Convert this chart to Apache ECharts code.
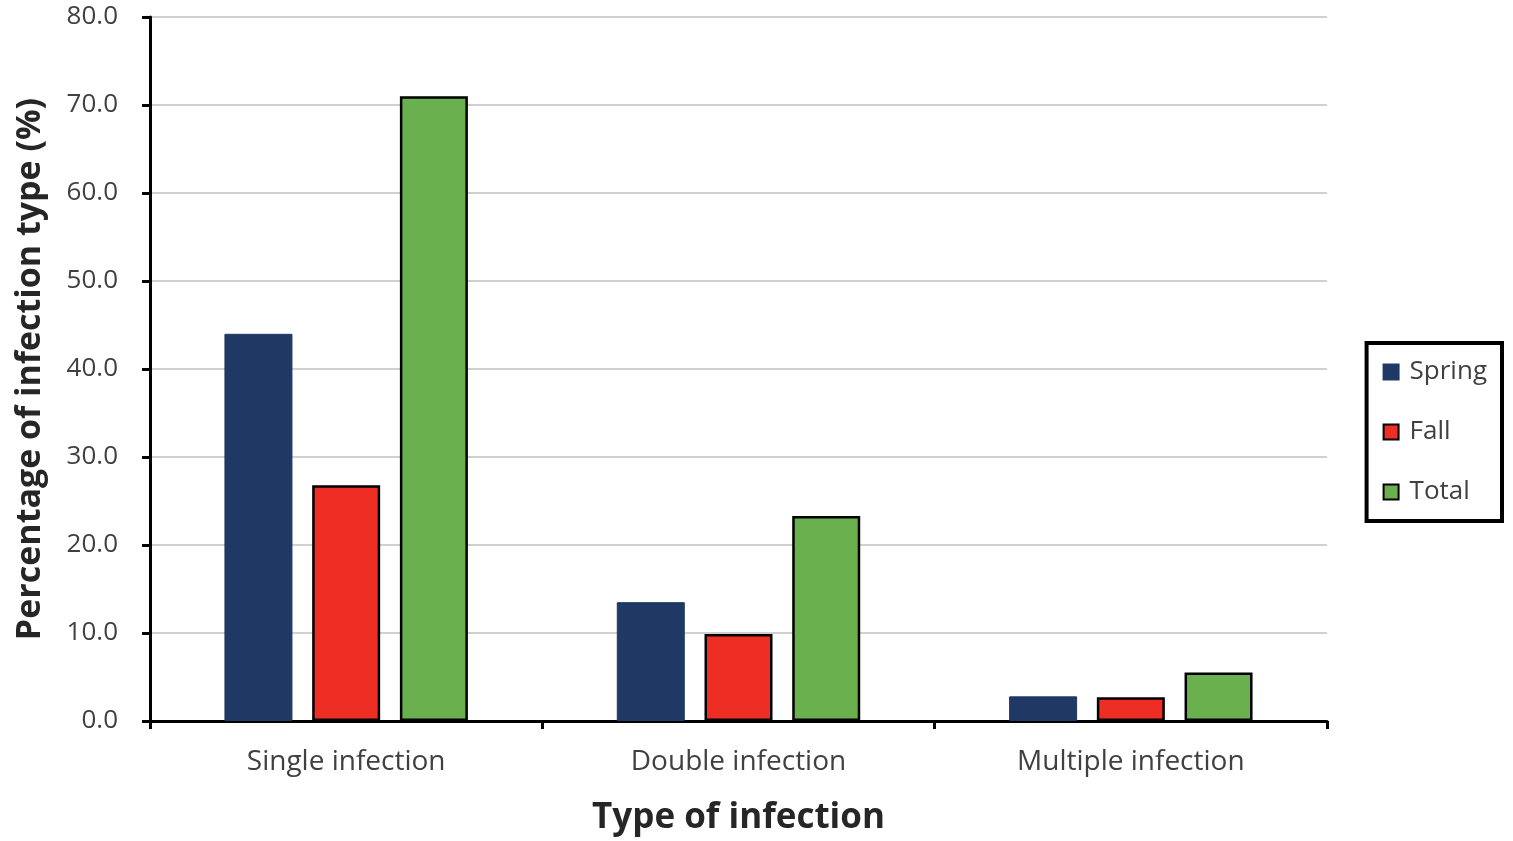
<!DOCTYPE html>
<html><head><meta charset="utf-8">
<script src="https://cdn.jsdelivr.net/npm/echarts@6/dist/echarts.min.js"></script>
<style>html,body{margin:0;padding:0;background:#fff}#c{width:1513px;height:841px}</style>
</head><body><div id="c"></div>
<script>
const categories = ['Single infection', 'Double infection', 'Multiple infection'];
const spring = [44.0, 13.5, 2.8];
const fall = [26.8, 9.9, 2.7];
const total = [71.0, 23.3, 5.5];
const yTicks = [0, 10, 20, 30, 40, 50, 60, 70, 80];

const chart = echarts.init(document.getElementById('c'));
const font = '"Open Sans", "Noto Sans", sans-serif';
chart.setOption({
  animation: false,
  textStyle: {fontFamily: font},
  grid: {left: 150, right: 186, top: 17, bottom: 120, containLabel: false, outerBoundsMode: 'none'},
  legend: {
    orient: 'vertical', right: 11, top: 343,
    data: ['Spring', 'Fall', 'Total'],
    itemWidth: 15, itemHeight: 15, itemGap: 34,
    padding: [16, 15, 16, 16],
    borderColor: '#000', borderWidth: 4, borderRadius: 0,
    textStyle: {fontSize: 26, color: '#404040', fontFamily: font, padding: [0, 0, 0, 6]},
    icon: 'rect'
  },
  xAxis: {
    type: 'category', data: categories,
    name: 'Type of infection', nameLocation: 'middle', nameGap: 80,
    nameTextStyle: {fontSize: 35, fontWeight: 'bold', color: '#262626', fontFamily: font},
    axisLine: {lineStyle: {color: '#000', width: 3}},
    axisTick: {show: true, length: 8, lineStyle: {color: '#000', width: 3}, alignWithLabel: false},
    axisLabel: {fontSize: 28, color: '#404040', margin: 27, fontFamily: font},
    splitLine: {show: false}
  },
  yAxis: {
    type: 'value', min: 0, max: 80, interval: 10,
    name: 'Percentage of infection type (%)', nameLocation: 'middle', nameGap: 103, nameRotate: 90,
    nameTextStyle: {fontSize: 34, fontWeight: 'bold', color: '#262626', fontFamily: font},
    axisLine: {show: true, lineStyle: {color: '#000', width: 3}},
    axisTick: {show: true, length: 8, lineStyle: {color: '#000', width: 3}},
    axisLabel: {fontSize: 26, color: '#404040', margin: 32, fontFamily: font,
      formatter: v => yTicks.includes(v) ? v.toFixed(1) : ''},
    splitLine: {lineStyle: {color: '#d0d0d0', width: 2}}
  },
  series: [
    {name: 'Spring', type: 'bar', data: spring, barWidth: 68, barGap: '29%',
     itemStyle: {color: '#1F3864', borderColor: '#1F3864', borderWidth: 1}},
    {name: 'Fall', type: 'bar', data: fall, barWidth: 68, barGap: '29%',
     itemStyle: {color: '#EE2E24', borderColor: '#000', borderWidth: 2.5}},
    {name: 'Total', type: 'bar', data: total, barWidth: 68, barGap: '29%',
     itemStyle: {color: '#6AB04F', borderColor: '#000', borderWidth: 2.5}}
  ]
});
</script></body></html>
